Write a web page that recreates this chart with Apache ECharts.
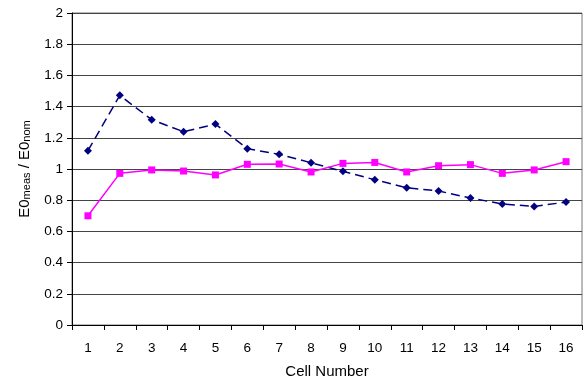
<!DOCTYPE html>
<html>
<head>
<meta charset="utf-8">
<script src="https://cdn.jsdelivr.net/npm/echarts@6/dist/echarts.min.js"></script>
<style>
  html, body { margin: 0; padding: 0; background: #fff; }
  #chart { width: 583px; height: 384px; }
</style>
</head>
<body>
<div id="chart"></div>
<script>
// cell numbers along the x axis
var cells = ['1', '2', '3', '4', '5', '6', '7', '8', '9', '10', '11', '12', '13', '14', '15', '16'];

// dark blue dashed series (diamonds)
var navy_vals = [1.117, 1.472, 1.316, 1.239, 1.288, 1.13, 1.094, 1.04, 0.985, 0.931, 0.88, 0.859, 0.814, 0.776, 0.76, 0.788];

// magenta solid series (squares)
var pink_vals = [0.70, 0.972, 0.994, 0.987, 0.962, 1.03, 1.032, 0.981, 1.036, 1.042, 0.981, 1.021, 1.028, 0.972, 0.994, 1.047];

var font = 'Liberation Sans, Arial, sans-serif';

var chart = echarts.init(document.getElementById('chart'));

var option = {
    animation: false,
    grid: {
        left: 72,
        right: 1,
        top: 13,
        bottom: 59,
        show: true,
        borderColor: '#777',
        borderWidth: 1
    },
    xAxis: {
        type: 'category',
        data: cells,
        boundaryGap: true,
        name: 'Cell Number',
        nameLocation: 'middle',
        nameGap: 39,
        nameTextStyle: { fontFamily: font, fontSize: 15, color: '#000' },
        axisLine: { lineStyle: { color: '#000', width: 1 } },
        axisTick: { show: true, length: 5, lineStyle: { color: '#000' } },
        axisLabel: { fontFamily: font, fontSize: 13.5, color: '#000', margin: 16 }
    },
    yAxis: {
        type: 'value',
        min: 0,
        max: 2,
        interval: 0.2,
        name: '{n|E0}{s|meas}{n| / E0}{s|nom}',
        nameLocation: 'middle',
        nameGap: 40,
        nameRotate: 90,
        nameTextStyle: {
            rich: {
                n: { fontFamily: font, fontSize: 15, color: '#000', verticalAlign: 'bottom', lineHeight: 18 },
                s: { fontFamily: font, fontSize: 11, color: '#000', verticalAlign: 'bottom', lineHeight: 12 }
            }
        },
        axisLine: { show: true, lineStyle: { color: '#000', width: 1 } },
        axisTick: { show: true, length: 5, lineStyle: { color: '#000' } },
        axisLabel: {
            fontFamily: font, fontSize: 13.5, color: '#000', margin: 9,
            formatter: function(v) {
                return String(Math.round(v * 10) / 10);
            }
        },
        splitLine: { show: true, lineStyle: { color: '#444', width: 1 } }
    },
    series: [
        {
            name: 'navy',
            type: 'line',
            data: navy_vals,
            symbol: 'diamond',
            symbolSize: 8,
            itemStyle: { color: '#000080' },
            lineStyle: { color: '#000080', width: 1.5, type: [9, 5] },
            z: 3
        },
        {
            name: 'pink',
            type: 'line',
            data: pink_vals,
            symbol: 'rect',
            symbolSize: 7,
            itemStyle: { color: '#ff00ff' },
            lineStyle: { color: '#ff00ff', width: 1.5, type: 'solid' },
            z: 4
        }
    ]
};

chart.setOption(option);
</script>
</body>
</html>
